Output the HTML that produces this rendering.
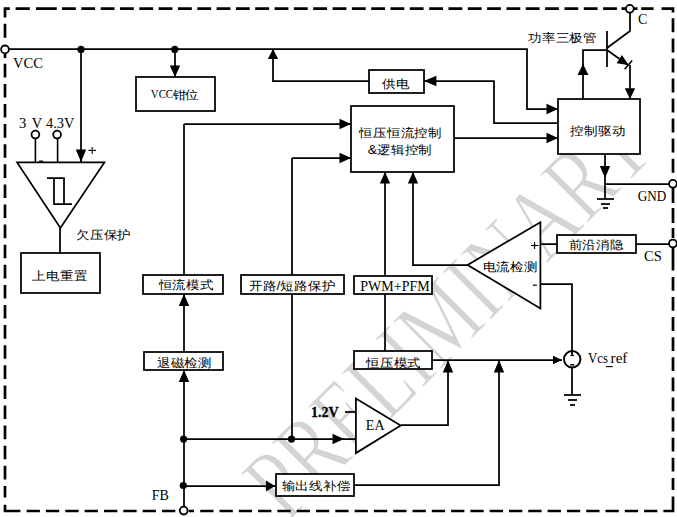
<!DOCTYPE html>
<html><head><meta charset="utf-8"><style>
html,body{margin:0;padding:0;background:#fff;width:677px;height:517px;overflow:hidden}
svg{display:block;position:absolute;left:0;top:0}
</style></head><body>
<svg width="677" height="517" viewBox="0 0 677 517">
<g><text x="0" y="0" transform="translate(287,524) rotate(-45) scale(0.74,1)" font-family='"Liberation Serif", serif' font-size="105" fill="#d4d4d4" stroke="#fff" stroke-width="1.6">PRELIMINARY</text></g>
<path d="M5,17.4 L5,8.7 L9.8,8.7 M15.6,8.7 L29.8,8.7 M36,8.7 L56.7,8.7 M62.0,8.7 L75.8,8.7 M81.3,8.7 L95.1,8.7 M100.7,8.7 L114.5,8.7 M120.0,8.7 L133.8,8.7 M139.3,8.7 L153.1,8.7 M158.6,8.7 L172.4,8.7 M177.9,8.7 L191.8,8.7 M197.3,8.7 L211.1,8.7 M216.6,8.7 L230.4,8.7 M235.9,8.7 L249.7,8.7 M255.2,8.7 L269.1,8.7 M274.6,8.7 L288.4,8.7 M293.9,8.7 L307.7,8.7 M313.2,8.7 L327.0,8.7 M332.6,8.7 L346.4,8.7 M351.9,8.7 L365.7,8.7 M371.2,8.7 L385.0,8.7 M390.5,8.7 L404.3,8.7 M409.8,8.7 L423.6,8.7 M429.2,8.7 L443.0,8.7 M448.5,8.7 L462.3,8.7 M467.8,8.7 L481.6,8.7 M487.1,8.7 L500.9,8.7 M506.5,8.7 L520.3,8.7 M525.8,8.7 L539.6,8.7 M545.1,8.7 L558.9,8.7 M564.5,8.7 L578.2,8.7 M583.8,8.7 L597.6,8.7 M603.1,8.7 L616.9,8.7 M621.5,8.7 L637.5,8.7 M641.2,8.7 L653.6,8.7 M661.6,8.7 L673,8.7 L673,12.6 M673,18.3 L673,32.3 M673,38.4 L673,52.4 M673,58.4 L673,72.4 M673,78.5 L673,92.5 M673,98.5 L673,112.5 M673,118.5 L673,132.6 M673,138.6 L673,152.6 M673,158.7 L673,172.7 M673,187.8 L673,203 M673,208 L673,223 M673,228 L673,238 M673,248 L673,270.6 M673,276.9 L673,290.7 M673,297.0 L673,310.8 M673,317.1 L673,330.9 M673,337.2 L673,351.0 M673,357.3 L673,371.1 M673,377.4 L673,391.2 M673,397.5 L673,411.3 M673,417.6 L673,431.4 M673,437.7 L673,451.5 M673,457.8 L673,471.6 M673,477.9 L673,490.0 M673,496.4 L673,511 L663.4,511 M5,504.7 L5,511 L20.4,511 M26.6,511 L39.9,511 M45.9,511 L59.2,511 M65.3,511 L78.6,511 M84.6,511 L97.9,511 M104.0,511 L117.3,511 M123.3,511 L136.6,511 M142.6,511 L155.9,511 M162.0,511 L175.3,511 M188.7,511 L194,511 M200.2,511 L213.5,511 M219.5,511 L232.8,511 M238.8,511 L252.1,511 M258.1,511 L271.4,511 M277.4,511 L290.7,511 M296.7,511 L310.0,511 M316.0,511 L329.3,511 M335.3,511 L348.6,511 M354.6,511 L367.9,511 M373.9,511 L387.2,511 M393.2,511 L406.5,511 M412.5,511 L425.8,511 M431.8,511 L445.1,511 M451.1,511 L464.4,511 M470.4,511 L483.7,511 M489.7,511 L503.0,511 M509.0,511 L522.3,511 M528.3,511 L541.6,511 M547.6,511 L560.9,511 M566.9,511 L580.2,511 M586.2,511 L599.5,511 M605.5,511 L618.8,511 M624.8,511 L638.1,511 M644.1,511 L657.4,511 M5,23.8 L5,37.7 M5,54 L5,58 M5,63.8 L5,77.4 M5,83.9 L5,97.5 M5,104.0 L5,117.6 M5,124.1 L5,137.7 M5,144.2 L5,157.8 M5,164.3 L5,177.9 M5,184.4 L5,198.0 M5,204.5 L5,218.1 M5,224.6 L5,238.2 M5,244.7 L5,258.3 M5,264.8 L5,278.4 M5,284.9 L5,298.5 M5,305.0 L5,318.6 M5,325.1 L5,338.7 M5,345.2 L5,358.8 M5,365.3 L5,378.9 M5,385.4 L5,399.0 M5,405.5 L5,419.1 M5,425.6 L5,439.2 M5,445.7 L5,459.3 M5,465.8 L5,479.4 M5,485.9 L5,497.6" fill="none" stroke="#000" stroke-width="2.7"/>
<path d="M5,49 L527,49 L527,109 L558,109" fill="none" stroke="#000" stroke-width="1.75" stroke-linejoin="miter"/>
<polygon points="558,109 546.5,103.8 546.5,114.2" fill="#000"/>
<circle cx="5" cy="49.4" r="3.9" fill="#fff" stroke="#000" stroke-width="1.8"/>
<circle cx="81" cy="49.4" r="3.6" fill="#000"/>
<circle cx="174.8" cy="49.4" r="3.6" fill="#000"/>
<text x="28" y="68.4" font-family='"Liberation Serif", serif' font-size="14.5" text-anchor="middle" font-weight="normal" >VCC</text>
<path d="M81,49 L81,162" fill="none" stroke="#000" stroke-width="1.75" stroke-linejoin="miter"/>
<polygon points="81,162 75.8,149.5 86.2,149.5" fill="#000"/>
<polygon points="17.1,162.4 104.4,162.4 60.4,228" fill="#fff" stroke="#000" stroke-width="1.75" stroke-linejoin="miter"/>
<path d="M35.4,134.7 L35.4,162" fill="none" stroke="#000" stroke-width="1.6" stroke-linejoin="miter"/>
<path d="M57.6,134.7 L57.6,162" fill="none" stroke="#000" stroke-width="1.6" stroke-linejoin="miter"/>
<circle cx="35.4" cy="134.6" r="3.9" fill="#fff" stroke="#000" stroke-width="1.8"/>
<circle cx="57.1" cy="134.6" r="3.9" fill="#fff" stroke="#000" stroke-width="1.8"/>
<path d="M47,178 L64,178 L64,204" fill="none" stroke="#000" stroke-width="1.75" stroke-linejoin="miter"/>
<path d="M54,178 L54,204 L72,204" fill="none" stroke="#000" stroke-width="1.75" stroke-linejoin="miter"/>
<text x="22.6" y="127.6" font-family='"Liberation Serif", serif' font-size="14.5" text-anchor="middle" font-weight="normal" >3</text>
<text x="37" y="127.6" font-family='"Liberation Serif", serif' font-size="14.5" text-anchor="middle" font-weight="normal" >V</text>
<text x="46" y="127.6" font-family='"Liberation Serif", serif' font-size="14.5" text-anchor="start" font-weight="normal" textLength="28.4" lengthAdjust="spacingAndGlyphs">4.3V</text>
<path d="M88.4,150.4 L96,150.4" fill="none" stroke="#000" stroke-width="1.1" stroke-linejoin="miter"/>
<path d="M92.2,147 L92.2,154" fill="none" stroke="#000" stroke-width="1.1" stroke-linejoin="miter"/>
<path d="M39,161.2 L43,161.2" fill="none" stroke="#000" stroke-width="1.4" stroke-linejoin="miter"/>
<text x="103.7" y="239.5" transform="translate(0,234.18) scale(1,0.89) translate(0,-234.18)" font-family='"Liberation Sans", sans-serif' font-size="14" text-anchor="middle" font-weight="normal" >欠压保护</text>
<path d="M60,228 L60,253" fill="none" stroke="#000" stroke-width="1.75" stroke-linejoin="miter"/>
<rect x="21" y="253" width="79" height="40" fill="#fff" stroke="#000" stroke-width="1.75"/>
<text x="59.8" y="280.5" transform="translate(0,275.18) scale(1,0.89) translate(0,-275.18)" font-family='"Liberation Sans", sans-serif' font-size="14" text-anchor="middle" font-weight="normal" >上电重置</text>
<path d="M175,49 L175,77" fill="none" stroke="#000" stroke-width="1.75" stroke-linejoin="miter"/>
<polygon points="175,77 169.8,65.5 180.2,65.5" fill="#000"/>
<rect x="136" y="77" width="79" height="34" fill="#fff" stroke="#000" stroke-width="1.75"/>
<text x="150.8" y="97.6" font-family='"Liberation Serif", serif' font-size="13" text-anchor="start" font-weight="normal" textLength="22.3" lengthAdjust="spacingAndGlyphs">VCC</text>
<text x="172.6" y="99.1" transform="translate(0,94.16) scale(1,0.89) translate(0,-94.16)" font-family='"Liberation Sans", sans-serif' font-size="13" text-anchor="start" font-weight="normal" >钳位</text>
<path d="M369,81 L273,81 L273,49" fill="none" stroke="#000" stroke-width="1.75" stroke-linejoin="miter"/>
<polygon points="273,49 267.8,59 278.2,59" fill="#000"/>
<rect x="369" y="70" width="55" height="23" fill="#fff" stroke="#000" stroke-width="1.75"/>
<text x="395.7" y="88.3" transform="translate(0,82.98) scale(1,0.89) translate(0,-82.98)" font-family='"Liberation Sans", sans-serif' font-size="14" text-anchor="middle" font-weight="normal" >供电</text>
<path d="M424,81 L494,81 L494,123 L558,123" fill="none" stroke="#000" stroke-width="1.75" stroke-linejoin="miter"/>
<polygon points="424,81 436.4,75.8 436.4,86.2" fill="#000"/>
<rect x="351" y="106" width="103" height="66" fill="#fff" stroke="#000" stroke-width="1.75"/>
<text x="400.7" y="137.4" transform="translate(0,132.08) scale(1,0.89) translate(0,-132.08)" font-family='"Liberation Sans", sans-serif' font-size="14" text-anchor="middle" font-weight="normal" >恒压恒流控制</text>
<text x="400" y="154.8" transform="translate(0,149.48) scale(1,0.89) translate(0,-149.48)" font-family='"Liberation Sans", sans-serif' font-size="14" text-anchor="middle" font-weight="normal" >&amp;逻辑控制</text>
<path d="M454,138 L558,138" fill="none" stroke="#000" stroke-width="1.75" stroke-linejoin="miter"/>
<polygon points="558,138 546.5,132.8 546.5,143.2" fill="#000"/>
<path d="M607,31 L607,67" fill="none" stroke="#000" stroke-width="1.75" stroke-linejoin="miter"/>
<path d="M583,99 L583,50 L607,50" fill="none" stroke="#000" stroke-width="1.75" stroke-linejoin="miter"/>
<polygon points="583,64 577.5,75 588.5,75" fill="#000"/>
<path d="M607,48 L630,31 L630,9" fill="none" stroke="#000" stroke-width="1.75" stroke-linejoin="miter"/>
<path d="M607,50 L628,65" fill="none" stroke="#000" stroke-width="1.75" stroke-linejoin="miter"/>
<polygon points="628.6,65.1 616.6,63.2 621.9,55.1" fill="#000"/>
<path d="M624.6,69.3 L632.2,60.4" fill="none" stroke="#000" stroke-width="1.5" stroke-linejoin="miter"/>
<path d="M630,65 L630,99" fill="none" stroke="#000" stroke-width="1.75" stroke-linejoin="miter"/>
<polygon points="630,99 624.8,88.2 635.2,88.2" fill="#000"/>
<circle cx="629.8" cy="8.8" r="3.9" fill="#fff" stroke="#000" stroke-width="1.8"/>
<text x="642.7" y="24" font-family='"Liberation Serif", serif' font-size="14" text-anchor="middle" font-weight="normal" >C</text>
<text x="562.5" y="42.6" transform="translate(0,37.28) scale(1,0.89) translate(0,-37.28)" font-family='"Liberation Sans", sans-serif' font-size="14" text-anchor="middle" font-weight="normal" >功率三极管</text>
<rect x="558" y="99" width="82" height="55" fill="#fff" stroke="#000" stroke-width="1.75"/>
<text x="597.8" y="135.5" transform="translate(0,130.18) scale(1,0.89) translate(0,-130.18)" font-family='"Liberation Sans", sans-serif' font-size="14" text-anchor="middle" font-weight="normal" >控制驱动</text>
<path d="M605,154 L605,199" fill="none" stroke="#000" stroke-width="1.75" stroke-linejoin="miter"/>
<polygon points="605,178 599.8,166 610.2,166" fill="#000"/>
<path d="M605,184 L673,184" fill="none" stroke="#000" stroke-width="1.75" stroke-linejoin="miter"/>
<path d="M597,199 L614,199" fill="none" stroke="#000" stroke-width="1.75" stroke-linejoin="miter"/>
<path d="M601,204 L610,204" fill="none" stroke="#000" stroke-width="1.75" stroke-linejoin="miter"/>
<path d="M603,208 L608,208" fill="none" stroke="#000" stroke-width="1.75" stroke-linejoin="miter"/>
<circle cx="672.9" cy="183.8" r="3.9" fill="#fff" stroke="#000" stroke-width="1.8"/>
<text x="637.8" y="200.7" font-family='"Liberation Serif", serif' font-size="14" text-anchor="start" font-weight="normal" textLength="28.5" lengthAdjust="spacingAndGlyphs">GND</text>
<path d="M540,244 L673,244" fill="none" stroke="#000" stroke-width="1.75" stroke-linejoin="miter"/>
<rect x="557" y="235" width="79" height="18" fill="#fff" stroke="#000" stroke-width="1.75"/>
<text x="596" y="249.7" transform="translate(0,244.38) scale(1,0.89) translate(0,-244.38)" font-family='"Liberation Sans", sans-serif' font-size="14" text-anchor="middle" font-weight="normal" >前沿消隐</text>
<circle cx="672.9" cy="243.5" r="3.9" fill="#fff" stroke="#000" stroke-width="1.8"/>
<text x="652.9" y="261.3" font-family='"Liberation Serif", serif' font-size="14.5" text-anchor="middle" font-weight="normal" >CS</text>
<polygon points="540.4,222.2 540.4,308.4 467.6,264.9" fill="#fff" stroke="#000" stroke-width="1.75" stroke-linejoin="miter"/>
<text x="510.2" y="271.8" transform="translate(0,266.48) scale(1,0.89) translate(0,-266.48)" font-family='"Liberation Sans", sans-serif' font-size="14" text-anchor="middle" font-weight="normal" >电流检测</text>
<path d="M531,245.5 L538.6,245.5" fill="none" stroke="#000" stroke-width="1.1" stroke-linejoin="miter"/>
<path d="M534.6,242 L534.6,249" fill="none" stroke="#000" stroke-width="1.1" stroke-linejoin="miter"/>
<path d="M532.8,285.2 L536.9,285.2" fill="none" stroke="#000" stroke-width="1.2" stroke-linejoin="miter"/>
<path d="M468,265 L413,265 L413,172" fill="none" stroke="#000" stroke-width="1.75" stroke-linejoin="miter"/>
<polygon points="413,172 407.8,183.5 418.2,183.5" fill="#000"/>
<path d="M540,284 L572,284 L572,351" fill="none" stroke="#000" stroke-width="1.75" stroke-linejoin="miter"/>
<circle cx="572.2" cy="359.3" r="8.2" fill="#fff" stroke="#000" stroke-width="2"/>
<path d="M572,351 L572,356" fill="none" stroke="#000" stroke-width="1.75" stroke-linejoin="miter"/>
<path d="M570.5,355.5 L574,355.5" fill="none" stroke="#000" stroke-width="1.2" stroke-linejoin="miter"/>
<path d="M570.2,364.8 L574.4,364.8" fill="none" stroke="#000" stroke-width="1.5" stroke-linejoin="miter"/>
<path d="M572,368 L572,395" fill="none" stroke="#000" stroke-width="1.75" stroke-linejoin="miter"/>
<path d="M564,395 L581,395" fill="none" stroke="#000" stroke-width="1.75" stroke-linejoin="miter"/>
<path d="M568,400 L577,400" fill="none" stroke="#000" stroke-width="1.75" stroke-linejoin="miter"/>
<path d="M570,405 L575,405" fill="none" stroke="#000" stroke-width="1.75" stroke-linejoin="miter"/>
<text x="588" y="363.3" font-family='"Liberation Serif", serif' font-size="14" text-anchor="start" font-weight="normal" textLength="20" lengthAdjust="spacingAndGlyphs">Vcs</text>
<text x="610.6" y="363.3" font-family='"Liberation Serif", serif' font-size="14" text-anchor="start" font-weight="normal" textLength="16.8" lengthAdjust="spacingAndGlyphs">ref</text>
<path d="M605.8,366.6 L612.8,366.6" fill="none" stroke="#000" stroke-width="1.1" stroke-linejoin="miter"/>
<path d="M432,360 L562,360" fill="none" stroke="#000" stroke-width="1.75" stroke-linejoin="miter"/>
<polygon points="562,360 553,355.7 553,364.3" fill="#000"/>
<path d="M184,124 L351,124" fill="none" stroke="#000" stroke-width="1.75" stroke-linejoin="miter"/>
<polygon points="351,124 339.5,118.8 339.5,129.2" fill="#000"/>
<path d="M184,124 L184,275" fill="none" stroke="#000" stroke-width="1.75" stroke-linejoin="miter"/>
<rect x="143" y="275" width="80" height="19" fill="#fff" stroke="#000" stroke-width="1.75"/>
<text x="186" y="289.9" transform="translate(0,284.58) scale(1,0.89) translate(0,-284.58)" font-family='"Liberation Sans", sans-serif' font-size="14" text-anchor="middle" font-weight="normal" >恒流模式</text>
<path d="M184,294 L184,352" fill="none" stroke="#000" stroke-width="1.75" stroke-linejoin="miter"/>
<polygon points="184,294 178.8,306 189.2,306" fill="#000"/>
<rect x="144" y="352" width="79" height="18" fill="#fff" stroke="#000" stroke-width="1.75"/>
<text x="184.4" y="367.1" transform="translate(0,361.78) scale(1,0.89) translate(0,-361.78)" font-family='"Liberation Sans", sans-serif' font-size="14" text-anchor="middle" font-weight="normal" >退磁检测</text>
<path d="M184,370 L184,511" fill="none" stroke="#000" stroke-width="1.75" stroke-linejoin="miter"/>
<polygon points="184,370 178.8,382 189.2,382" fill="#000"/>
<circle cx="183.7" cy="510.6" r="3.9" fill="#fff" stroke="#000" stroke-width="1.8"/>
<circle cx="183.6" cy="439.1" r="3.6" fill="#000"/>
<circle cx="183.3" cy="485.5" r="3.6" fill="#000"/>
<text x="160.2" y="500.3" font-family='"Liberation Serif", serif' font-size="14" text-anchor="middle" font-weight="normal" >FB</text>
<path d="M292,158 L351,158" fill="none" stroke="#000" stroke-width="1.75" stroke-linejoin="miter"/>
<polygon points="351,158 339.5,152.8 339.5,163.2" fill="#000"/>
<path d="M292,158 L292,440" fill="none" stroke="#000" stroke-width="1.75" stroke-linejoin="miter"/>
<rect x="241" y="275" width="103" height="19" fill="#fff" stroke="#000" stroke-width="1.75"/>
<text x="292.2" y="290.7" transform="translate(0,285.38) scale(1,0.89) translate(0,-285.38)" font-family='"Liberation Sans", sans-serif' font-size="14" text-anchor="middle" font-weight="normal" >开路/短路保护</text>
<circle cx="291.5" cy="439.1" r="3.6" fill="#000"/>
<path d="M184,439 L356,439" fill="none" stroke="#000" stroke-width="1.75" stroke-linejoin="miter"/>
<polygon points="344,439 332.5,433.7 332.5,444.3" fill="#000"/>
<path d="M385,172 L385,352" fill="none" stroke="#000" stroke-width="1.75" stroke-linejoin="miter"/>
<polygon points="385,172 379.8,183.5 390.2,183.5" fill="#000"/>
<rect x="354" y="276" width="78" height="18" fill="#fff" stroke="#000" stroke-width="1.75"/>
<text x="395" y="290.8" font-family='"Liberation Serif", serif' font-size="14" text-anchor="middle" font-weight="normal" >PWM+PFM</text>
<rect x="354" y="351" width="78" height="18" fill="#fff" stroke="#000" stroke-width="1.75"/>
<text x="393.7" y="367.1" transform="translate(0,361.78) scale(1,0.89) translate(0,-361.78)" font-family='"Liberation Sans", sans-serif' font-size="14" text-anchor="middle" font-weight="normal" >恒压模式</text>
<polygon points="355.9,398.5 355.9,453.1 400.7,425.4" fill="#fff" stroke="#000" stroke-width="1.75" stroke-linejoin="miter"/>
<text x="375.2" y="429.5" font-family='"Liberation Serif", serif' font-size="14" text-anchor="middle" font-weight="normal" >EA</text>
<text x="324.8" y="417" font-family='"Liberation Serif", serif' font-size="14" text-anchor="middle" font-weight="bold" stroke="#000" stroke-width="0.3">1.2V</text>
<path d="M345,412 L356,412" fill="none" stroke="#000" stroke-width="1.75" stroke-linejoin="miter"/>
<path d="M401,425 L448,425 L448,360" fill="none" stroke="#000" stroke-width="1.75" stroke-linejoin="miter"/>
<polygon points="448,360 442.8,372.4 453.2,372.4" fill="#000"/>
<path d="M184,486 L276,486" fill="none" stroke="#000" stroke-width="1.75" stroke-linejoin="miter"/>
<polygon points="275,486 266,480.6 266,491.4" fill="#000"/>
<rect x="276" y="474" width="78" height="22" fill="#fff" stroke="#000" stroke-width="1.75"/>
<text x="316" y="490.7" transform="translate(0,485.38) scale(1,0.89) translate(0,-485.38)" font-family='"Liberation Sans", sans-serif' font-size="14" text-anchor="middle" font-weight="normal" >输出线补偿</text>
<path d="M354,485 L499,485 L499,360" fill="none" stroke="#000" stroke-width="1.75" stroke-linejoin="miter"/>
<polygon points="499,360 493.8,372.4 504.2,372.4" fill="#000"/>
</svg>
</body></html>
